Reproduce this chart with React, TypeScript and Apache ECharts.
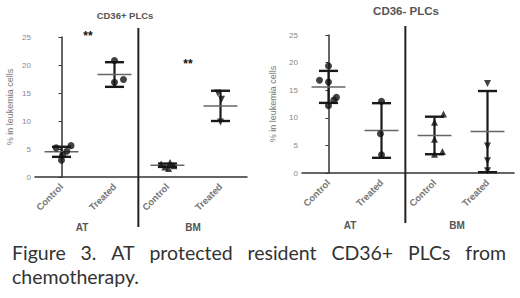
import React, { useEffect, useRef } from "react";
import * as echarts from "echarts";

// ---------- data ----------
const categories = ["Control", "Treated", "Control", "Treated"];
const groupLabels = ["AT", "BM"];
const panelTitles = ["CD36+ PLCs", "CD36- PLCs"];
const yAxisName = "% in leukemia cells";
const yTicks = [0, 5, 10, 15, 20, 25];
const significance = "**";
const captionLine1 = "Figure 3. AT protected resident CD36+ PLCs from";
const captionLine2 = "chemotherapy.";

// CD36+ PLCs (left panel)
const plusAtControl = [5.6, 5.2, 4.6, 3.9, 3.0];
const plusAtTreated = [20.8, 17.4, 16.9];
const plusBmControl = [2.6, 2.3, 2.0, 1.8, 1.5];
const plusBmTreated = [15.0, 13.9, 9.8];
const plusMeans = [4.5, 18.3, 2.1, 12.7];
const plusSD = [0.9, 2.2, 0.3, 2.7];
const plusJitter = [
  [0.18, -0.1, 0.1, 0.02, 0],
  [0, 0.17, 0],
  [0.05, -0.12, 0.12, -0.05, 0.02],
  [-0.05, 0.02, 0],
];

// CD36- PLCs (right panel)
const minusAtControl = [19.4, 16.8, 16.5, 13.7, 13.2, 12.2];
const minusAtTreated = [13.0, 7.1, 3.3];
const minusBmControl = [10.7, 9.2, 6.1, 3.9, 3.4];
const minusBmTreated = [16.2, 4.9, 2.2, 0.4];
const minusMeans = [15.6, 7.7, 6.8, 7.5];
const minusSD = [2.9, 4.95, 3.4, 7.35];
const minusJitter = [
  [0, -0.17, 0, 0.15, 0.1, 0],
  [0, -0.02, 0],
  [0.17, 0, 0, 0.15, 0],
  [0, 0, 0, 0],
];

const dividerPos = 1.45;

const groupSymbols = ["circle", "circle", "triangle", "triangle"];
const groupRotate = [0, 0, 0, 180];

export default function App() {
  const ref = useRef<HTMLDivElement>(null);

  useEffect(() => {
    if (!ref.current) return;
    const chart = echarts.init(ref.current, null, { renderer: "svg" });

    const panels = [
      {
        groups: [plusAtControl, plusAtTreated, plusBmControl, plusBmTreated],
        jitter: plusJitter,
        means: plusMeans,
        sds: plusSD,
      },
      {
        groups: [minusAtControl, minusAtTreated, minusBmControl, minusBmTreated],
        jitter: minusJitter,
        means: minusMeans,
        sds: minusSD,
      },
    ];

    const grids = [
      { left: 35, top: 37, width: 212, height: 140 },
      { left: 302, top: 35, width: 212, height: 138 },
    ];

    const xAxes: any[] = [];
    const yAxes: any[] = [];
    const series: any[] = [];

    panels.forEach((p, gi) => {
      xAxes.push({
        type: "category",
        gridIndex: gi,
        data: categories,
        boundaryGap: true,
        axisLine: { lineStyle: { color: "#333", width: 1.5 } },
        axisTick: { alignWithLabel: true, length: 3, lineStyle: { color: "#333" } },
        axisLabel: {
          rotate: 45,
          fontSize: 9.5,
          fontWeight: "bold",
          color: "#777",
          margin: 8,
          fontFamily: "Liberation Sans, Arial, sans-serif",
        },
        splitLine: { show: false },
      });
      xAxes.push({
        type: "value",
        gridIndex: gi,
        min: -0.5,
        max: 3.5,
        show: false,
      });
      yAxes.push({
        type: "value",
        gridIndex: gi,
        min: 0,
        max: 25,
        interval: 5,
        name: yAxisName,
        nameLocation: "middle",
        nameRotate: 90,
        nameGap: gi === 0 ? 21 : 25,
        nameTextStyle: {
          fontSize: 9,
          color: "#777",
          fontFamily: "Liberation Sans, Arial, sans-serif",
        },
        axisLine: { show: true, lineStyle: { color: "#333", width: 1.5 } },
        axisTick: { show: true, length: 3, lineStyle: { color: "#333" } },
        axisLabel: {
          fontSize: 8,
          color: "#888",
          margin: 4,
          fontFamily: "Liberation Sans, Arial, sans-serif",
          formatter: (v: number) => (yTicks.includes(v) ? String(v) : ""),
        },
        splitLine: { show: false },
      });

      const valueAxisIdx = gi * 2 + 1;

      p.groups.forEach((vals, ci) => {
        series.push({
          type: "scatter",
          xAxisIndex: valueAxisIdx,
          yAxisIndex: gi,
          symbol: groupSymbols[ci],
          symbolRotate: groupRotate[ci],
          symbolSize: 7,
          itemStyle: { color: "#111" },
          data: vals.map((v, k) => [ci + (p.jitter[ci][k] || 0), v]),
          z: 5,
        });
      });

      series.push({
        type: "custom",
        xAxisIndex: valueAxisIdx,
        yAxisIndex: gi,
        clip: false,
        z: 4,
        data: p.means.map((m, i) => [i, m, p.sds[i]]),
        encode: { x: 0, y: 1 },
        renderItem: (params: any, api: any) => {
          const x = api.value(0);
          const m = api.value(1);
          const s = api.value(2);
          const top = api.coord([x, m + s]);
          const bot = api.coord([x, Math.max(0, m - s)]);
          const mid = api.coord([x, m]);
          const unit = api.size([1, 0])[0];
          const cap = unit * 0.18;
          const mw = unit * 0.32;
          return {
            type: "group",
            children: [
              {
                type: "line",
                shape: { x1: top[0], y1: top[1], x2: bot[0], y2: bot[1] },
                style: { stroke: "#1a1a1a", lineWidth: 2.2 },
              },
              {
                type: "line",
                shape: { x1: top[0] - cap, y1: top[1], x2: top[0] + cap, y2: top[1] },
                style: { stroke: "#1a1a1a", lineWidth: 2.4 },
              },
              {
                type: "line",
                shape: { x1: bot[0] - cap, y1: bot[1], x2: bot[0] + cap, y2: bot[1] },
                style: { stroke: "#1a1a1a", lineWidth: 2.4 },
              },
              {
                type: "line",
                shape: { x1: mid[0] - mw, y1: mid[1], x2: mid[0] + mw, y2: mid[1] },
                style: { stroke: "#666", lineWidth: 1.5 },
              },
            ],
          };
        },
      });

      series.push({
        type: "custom",
        xAxisIndex: valueAxisIdx,
        yAxisIndex: gi,
        clip: false,
        z: 3,
        data: [[dividerPos, 25]],
        encode: { x: 0, y: 1 },
        renderItem: (params: any, api: any) => {
          const t = api.coord([api.value(0), 25]);
          const b = api.coord([api.value(0), 0]);
          return {
            type: "line",
            shape: { x1: t[0], y1: t[1] - 9, x2: b[0], y2: b[1] + 50 },
            style: { stroke: "#222", lineWidth: 2 },
          };
        },
      });
    });

    // caption justification
    const capFont = "19.5px Lato";
    const canvas = document.createElement("canvas");
    const ctx = canvas.getContext("2d")!;
    ctx.font = capFont;
    const words = captionLine1.split(" ");
    const widths = words.map((w) => ctx.measureText(w).width);
    const xStart = 12;
    const xEnd = 506;
    const total = widths.reduce((a, b) => a + b, 0);
    const gap = (xEnd - xStart - total) / (words.length - 1);
    const captionEls: any[] = [];
    let cx = xStart;
    words.forEach((w, i) => {
      captionEls.push({
        type: "text",
        x: cx,
        y: 252.5,
        style: {
          text: w,
          font: capFont,
          fill: "#333",
          textAlign: "left",
          textVerticalAlign: "middle",
        },
      });
      cx += widths[i] + gap;
    });
    captionEls.push({
      type: "text",
      x: xStart,
      y: 276.5,
      style: {
        text: captionLine2,
        font: capFont,
        fill: "#333",
        textAlign: "left",
        textVerticalAlign: "middle",
      },
    });

    const txt = (x: number, y: number, text: string, size: number, color: string, weight = "bold") => ({
      type: "text",
      x,
      y,
      style: {
        text,
        fontSize: size,
        fontWeight: weight,
        fill: color,
        fontFamily: "Liberation Sans, Arial, sans-serif",
        textAlign: "center",
        textVerticalAlign: "middle",
      },
    });

    chart.setOption({
      animation: false,
      backgroundColor: "#fff",
      grid: grids,
      xAxis: xAxes,
      yAxis: yAxes,
      series,
      graphic: [
        txt(125, 15, panelTitles[0], 9.5, "#555"),
        txt(406, 11, panelTitles[1], 11.5, "#555"),
        txt(88, 36, significance, 12, "#111"),
        txt(188, 64, significance, 12, "#111"),
        txt(82, 227, groupLabels[0], 10, "#555"),
        txt(193, 227, groupLabels[1], 10, "#555"),
        txt(350, 225, groupLabels[0], 10, "#555"),
        txt(457, 225, groupLabels[1], 10, "#555"),
        ...captionEls,
      ],
    });

    return () => chart.dispose();
  }, []);

  return (
    <div
      ref={ref}
      style={{ position: "fixed", left: 0, top: 0, width: 520, height: 298 }}
    />
  );
}
